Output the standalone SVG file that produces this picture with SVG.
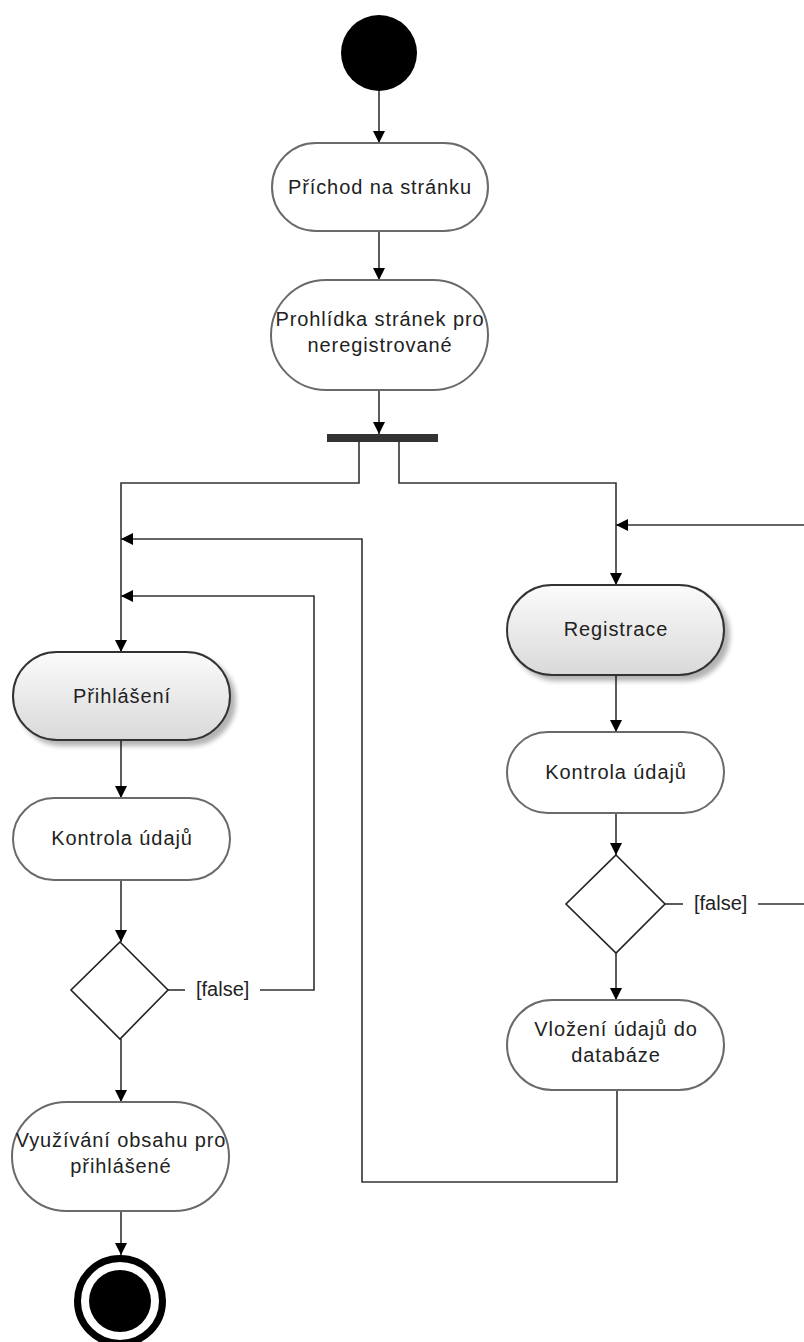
<svg xmlns="http://www.w3.org/2000/svg" width="804" height="1342" viewBox="0 0 804 1342">
<style>
.plain{fill:#fff;stroke:#6a6a6a;stroke-width:2}
.grad{fill:url(#g);stroke:#333;stroke-width:2;filter:url(#sh)}
.t{font-family:"Liberation Sans",Arial,sans-serif;font-size:20px;fill:#222;text-anchor:middle;letter-spacing:0.9px}
.lbl{font-family:"Liberation Sans",Arial,sans-serif;font-size:20px;fill:#222}
.c{fill:none;stroke:#333;stroke-width:1.6}
.a{marker-end:url(#arr)}
.dia{fill:#fff;stroke:#222;stroke-width:1.6}
</style>
<defs>
<linearGradient id="g" x1="0" y1="0" x2="0" y2="1">
<stop offset="0" stop-color="#fbfbfb"/>
<stop offset="1" stop-color="#d9d9d9"/>
</linearGradient>
<filter id="sh" x="-10%" y="-10%" width="130%" height="140%">
<feGaussianBlur in="SourceAlpha" stdDeviation="2.5"/>
<feOffset dx="5" dy="5" result="b"/>
<feComponentTransfer><feFuncA type="linear" slope="0.3"/></feComponentTransfer>
<feMerge><feMergeNode/><feMergeNode in="SourceGraphic"/></feMerge>
</filter>
<marker id="arr" viewBox="0 0 12 12" markerWidth="12" markerHeight="12" refX="12" refY="6" orient="auto" markerUnits="userSpaceOnUse">
<path d="M0,0 L12,6 L0,12 Z" fill="#000"/>
</marker>
</defs>

<g id="connectors">
<path class="c a" d="M379,91 V143"/>
<path class="c a" d="M379,231 V280"/>
<path class="c a" d="M379,390 V434"/>
<path class="c a" d="M359,442 V483 H121 V652"/>
<path class="c a" d="M399,442 V483 H616 V585"/>
<path class="c a" d="M121,740 V798"/>
<path class="c a" d="M121,880 V942"/>
<path class="c a" d="M121,1039 V1102"/>
<path class="c a" d="M121,1211 V1255"/>
<path class="c" d="M168,990 H185"/>
<path class="c a" d="M260,990 H314 V596 H121"/>
<path class="c a" d="M616,675 V732"/>
<path class="c a" d="M616,813 V855"/>
<path class="c a" d="M616,953 V1000"/>
<path class="c" d="M665,904 H683"/>
<path class="c a" d="M758,904 H812 V525 H616"/>
<path class="c a" d="M617,1090 V1182 H362 V539 H121"/>
<text class="lbl" x="196" y="996">[false]</text>
<text class="lbl" x="694" y="910">[false]</text>
</g>

<g id="start"><circle cx="379" cy="53" r="38" fill="#000"/></g>

<g id="fork"><rect x="327" y="434" width="111" height="8" fill="#333"/></g>

<g id="prichod">
<rect class="plain" x="272" y="143" width="216" height="88" rx="44"/>
<text class="t" x="380" y="194">Příchod na stránku</text>
</g>

<g id="prohlidka">
<rect class="plain" x="271" y="280" width="217" height="110" rx="55"/>
<text class="t" x="380" y="326">Prohlídka stránek pro</text>
<text class="t" x="380" y="352">neregistrované</text>
</g>

<g id="prihlaseni">
<rect class="grad" x="13" y="652" width="217" height="88" rx="44"/>
<text class="t" x="122" y="703">Přihlášení</text>
</g>

<g id="kontrola1">
<rect class="plain" x="13" y="798" width="217" height="82" rx="41"/>
<text class="t" x="122" y="845">Kontrola údajů</text>
</g>

<g id="decision1"><path class="dia" d="M120,942 L168,990 L120,1039 L71,990 Z"/></g>

<g id="vyuzivani">
<rect class="plain" x="12" y="1102" width="217" height="109" rx="54.5"/>
<text class="t" x="121" y="1147">Využívání obsahu pro</text>
<text class="t" x="121" y="1173">přihlášené</text>
</g>

<g id="end">
<circle cx="120" cy="1301" r="42.5" fill="#fff" stroke="#000" stroke-width="7"/>
<circle cx="120" cy="1301" r="31" fill="#000"/>
</g>

<g id="registrace">
<rect class="grad" x="507" y="585" width="217" height="90" rx="45"/>
<text class="t" x="616" y="636">Registrace</text>
</g>

<g id="kontrola2">
<rect class="plain" x="507" y="732" width="217" height="81" rx="40.5"/>
<text class="t" x="616" y="779">Kontrola údajů</text>
</g>

<g id="decision2"><path class="dia" d="M616,855 L665,904 L616,953 L566,904 Z"/></g>

<g id="vlozeni">
<rect class="plain" x="507" y="1000" width="217" height="90" rx="45"/>
<text class="t" x="616" y="1036">Vložení údajů do</text>
<text class="t" x="616" y="1062">databáze</text>
</g>
</svg>
